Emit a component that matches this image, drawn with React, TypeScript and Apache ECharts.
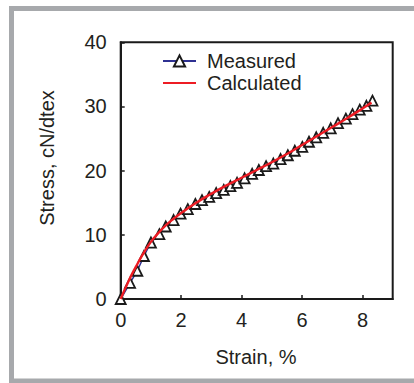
import React, { useEffect, useRef } from "react";
import * as echarts from "echarts";

const measuredStrain = [0, 0.31, 0.55, 0.77, 1.0, 1.28, 1.49, 1.75, 1.98, 2.22, 2.47, 2.69, 2.93, 3.16, 3.41, 3.63, 3.85, 4.1, 4.35, 4.57, 4.81, 5.05, 5.29, 5.53, 5.76, 6.01, 6.23, 6.47, 6.7, 6.95, 7.19, 7.45, 7.67, 7.91, 8.13, 8.33];
const measuredStress = [0, 2.5, 4.4, 6.7, 8.8, 10.1, 11.3, 12.3, 13.3, 14.0, 14.8, 15.4, 15.9, 16.5, 17.0, 17.6, 18.1, 18.8, 19.5, 20.1, 20.7, 21.1, 21.8, 22.4, 23.1, 23.7, 24.5, 25.2, 25.9, 26.6, 27.4, 28.1, 28.8, 29.5, 30.1, 30.9];

const calcStrain = [0, 0.25, 0.5, 0.75, 1.0, 1.25, 1.5, 1.75, 2.0, 2.5, 3.0, 3.5, 4.0, 4.5, 5.0, 5.5, 6.0, 6.5, 7.0, 7.5, 8.0, 8.3];
const calcStress = [0, 2.7, 5.0, 7.1, 8.9, 10.3, 11.5, 12.5, 13.4, 15.0, 16.4, 17.7, 18.9, 20.1, 21.3, 22.6, 24.0, 25.4, 26.8, 28.2, 29.7, 30.6];

const xTicks = [0, 2, 4, 6, 8];
const yTicks = [0, 10, 20, 30, 40];

const FONT = "Liberation Sans, Arial, sans-serif";
const TXT = "#231f20";

export default function App() {
  const ref = useRef<HTMLDivElement>(null);
  useEffect(() => {
    if (!ref.current) return;
    const chart = echarts.init(ref.current, undefined, { renderer: "svg" });
    chart.setOption({
      animation: false,
      backgroundColor: "#ffffff",
      graphic: [
        {
          type: "rect",
          shape: { x: 11.5, y: 8.5, width: 420, height: 372.5 },
          style: { fill: "none", stroke: "#a7a9ac", lineWidth: 5 },
          silent: true,
        },
        {
          type: "text",
          x: 47,
          y: 158,
          rotation: Math.PI / 2,
          style: { text: "Stress, cN/dtex", font: `20px ${FONT}`, fill: TXT, align: "center", verticalAlign: "middle" },
        },
        {
          type: "text",
          x: 256,
          y: 357,
          style: { text: "Strain, %", font: `20px ${FONT}`, fill: TXT, align: "center", verticalAlign: "middle" },
        },
      ],
      grid: {
        left: 120.7,
        top: 42.3,
        right: 21.3,
        bottom: 84,
        show: true,
        borderColor: "#1a1a1a",
        borderWidth: 2,
        backgroundColor: "transparent",
      },
      legend: {
        orient: "vertical",
        left: 162,
        top: 51,
        padding: 0,
        itemWidth: 33,
        itemHeight: 14,
        itemGap: 2,
        textStyle: { fontSize: 20, lineHeight: 16, fontFamily: FONT, color: TXT, padding: [0, 0, 0, 6] },
        data: [
          { name: "Measured" },
          { name: "Calculated", itemStyle: { opacity: 0 } },
        ],
      },
      xAxis: {
        type: "value",
        min: 0,
        max: 9,
        interval: 2,
        axisLine: { show: true, lineStyle: { color: "#1a1a1a", width: 2 } },
        axisTick: { show: true, inside: true, length: 4, lineStyle: { color: "#1a1a1a", width: 1.5 } },
        splitLine: { show: false },
        axisLabel: {
          fontSize: 20,
          fontFamily: FONT,
          color: TXT,
          margin: 11,
          showMaxLabel: false,
          formatter: (v: number) => (xTicks.includes(v) ? String(v) : ""),
        },
      },
      yAxis: {
        type: "value",
        min: 0,
        max: 40,
        interval: 10,
        axisLine: { show: true, lineStyle: { color: "#1a1a1a", width: 2 } },
        axisTick: { show: true, inside: true, length: 4, lineStyle: { color: "#1a1a1a", width: 1.5 } },
        splitLine: { show: false },
        axisLabel: {
          fontSize: 20,
          fontFamily: FONT,
          color: TXT,
          margin: 14,
          formatter: (v: number) => (yTicks.includes(v) ? String(v) : ""),
        },
      },
      series: [
        {
          name: "Measured",
          type: "line",
          data: measuredStrain.map((x, i) => [x, measuredStress[i]]),
          symbol: "triangle",
          symbolSize: 10,
          clip: false,
          lineStyle: { color: "#2e3192", width: 1.5 },
          itemStyle: { color: "#ffffff", borderColor: "#1a1a1a", borderWidth: 1.8 },
          z: 2,
        },
        {
          name: "Calculated",
          type: "line",
          data: calcStrain.map((x, i) => [x, calcStress[i]]),
          smooth: true,
          showSymbol: false,
          symbol: "none",
          lineStyle: { color: "#ed1c24", width: 2.4 },
          itemStyle: { color: "#ed1c24" },
          z: 3,
        },
      ],
    });
    return () => chart.dispose();
  }, []);
  return (
    <div
      ref={ref}
      style={{ position: "fixed", left: 0, top: 0, width: 414, height: 383 }}
    />
  );
}
